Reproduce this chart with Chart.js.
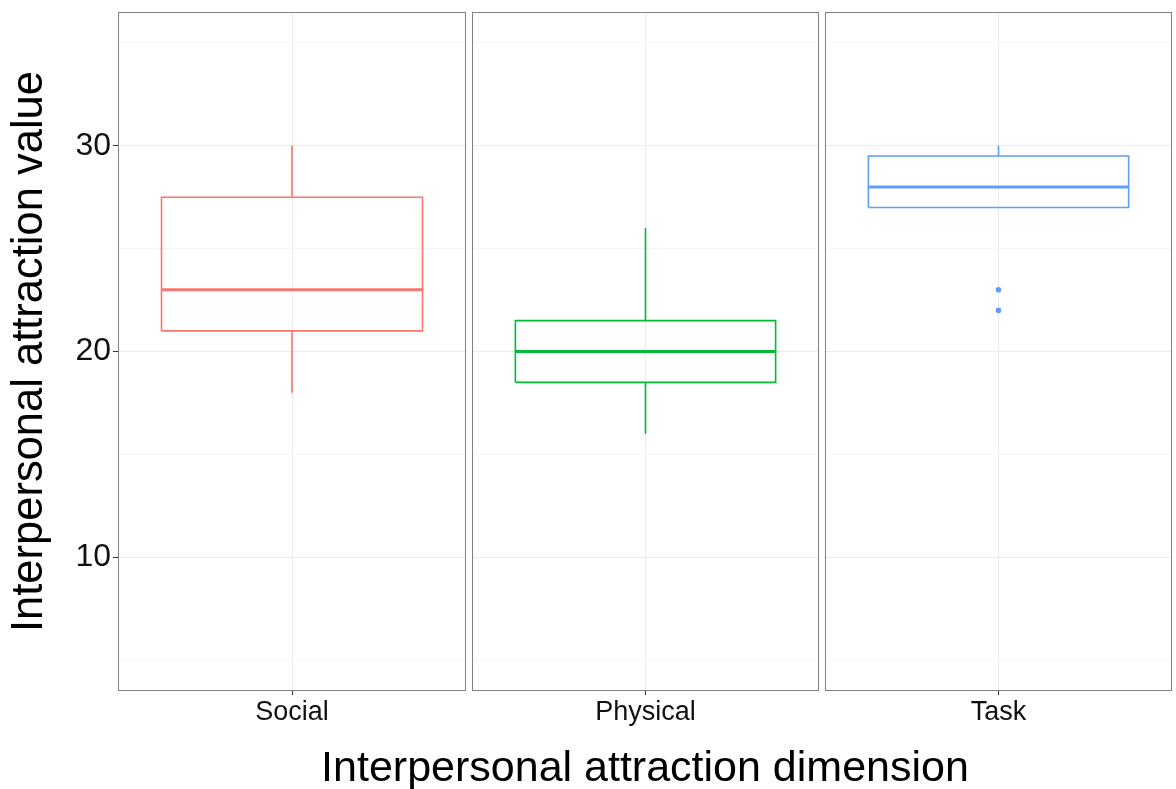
<!DOCTYPE html>
<html>
<head>
<meta charset="utf-8">
<script src="https://cdn.jsdelivr.net/npm/chart.js@4"></script>
<style>
  html, body { margin: 0; padding: 0; background: #fff; }
  #wrap { position: relative; width: 1176px; height: 789px; overflow: hidden; }
  #wrap canvas { position: absolute; top: 0; }
  #xtitle {
    position: absolute; left: 0; width: 1290px; top: 741px;
    text-align: center; white-space: nowrap;
    font-family: 'Liberation Sans', Arial, Helvetica, sans-serif;
    font-size: 43px; line-height: 50px; color: #000;
  }
</style>
</head>
<body>
<div id="wrap">
  <canvas id="p0"></canvas>
  <canvas id="p1"></canvas>
  <canvas id="p2"></canvas>
  <div id="xtitle">Interpersonal attraction dimension</div>
</div>
<script>
// Box-plot summaries, one facet per attraction dimension
const categories   = ['Social', 'Physical', 'Task'];
const lowerWhisker = [18, 16, 27];
const lowerQuart   = [21, 18.5, 27];
const medians      = [23, 20, 28];
const upperQuart   = [27.5, 21.5, 29.5];
const upperWhisker = [30, 26, 30];
const outliers     = [[], [], [23, 22]];
const yTicks       = [5, 10, 15, 20, 25, 30, 35];
const yLabelled    = [10, 20, 30];

const colours = ['#F8766D', '#00BA38', '#619CFF'];
const FONT = "'Liberation Sans', Arial, Helvetica, sans-serif";
const HALF_W = 0.45;          // half box width in x units
const X_MIN = 0.4, X_MAX = 1.6;
const Y_MIN = 3.5, Y_MAX = 36.5;

// canvas placement of each facet: [left, width]
const facetBoxes = [[0, 466], [472, 347], [825, 347]];
const AXIS_W = 118, AXIS_H = 98, TOP = 12;

const panelBorder = {
  id: 'panelBorder',
  afterDraw(chart) {
    const a = chart.chartArea, ctx = chart.ctx;
    ctx.save();
    ctx.strokeStyle = '#7f7f7f';
    ctx.lineWidth = 1;
    ctx.strokeRect(Math.round(a.left) + 0.5, Math.round(a.top) + 0.5,
                   Math.round(a.right - a.left) - 1, Math.round(a.bottom - a.top) - 1);
    ctx.restore();
  }
};

function seg(points, colour, width) {
  return {
    data: points, showLine: true, borderColor: colour, borderWidth: width,
    pointRadius: 0, fill: false, tension: 0, borderCapStyle: 'butt'
  };
}

function noPad(s) {
  s.paddingTop = 0; s.paddingBottom = 0; s.paddingLeft = 0; s.paddingRight = 0;
}

function makeFacet(i) {
  const c = colours[i];
  const lo = 1 - HALF_W, hi = 1 + HALF_W;
  const datasets = [
    seg([{x: lo, y: lowerQuart[i]}, {x: hi, y: lowerQuart[i]}, {x: hi, y: upperQuart[i]},
         {x: lo, y: upperQuart[i]}, {x: lo, y: lowerQuart[i]}], c, 1.6),
    seg([{x: lo, y: medians[i]}, {x: hi, y: medians[i]}], c, 3),
    seg([{x: 1, y: upperQuart[i]}, {x: 1, y: upperWhisker[i]}], c, 1.6),
    seg([{x: 1, y: lowerWhisker[i]}, {x: 1, y: lowerQuart[i]}], c, 1.6),
    {
      data: outliers[i].map(v => ({x: 1, y: v})), showLine: false,
      pointRadius: 2.8, pointBackgroundColor: c, pointBorderWidth: 0, borderColor: c
    }
  ];

  const first = i === 0;
  const [left, width] = facetBoxes[i];
  const cv = document.getElementById('p' + i);
  cv.style.left = left + 'px';
  cv.width = width; cv.height = 789;
  cv.style.width = width + 'px'; cv.style.height = '789px';

  new Chart(cv, {
    type: 'scatter',
    data: { datasets },
    plugins: [panelBorder],
    options: {
      responsive: false, animation: false, devicePixelRatio: 1,
      layout: { autoPadding: false, padding: { top: TOP, left: 0, right: 0, bottom: 0 } },
      plugins: { legend: { display: false }, tooltip: { enabled: false } },
      scales: {
        x: {
          type: 'linear', min: X_MIN, max: X_MAX,
          afterBuildTicks: s => { s.ticks = [{ value: 1 }]; },
          afterFit: s => { s.height = AXIS_H; noPad(s); },
          border: { display: false },
          grid: { color: '#ebebeb', lineWidth: 1, tickLength: 4, tickColor: '#333' },
          ticks: {
            callback: () => categories[i], color: '#111', padding: 1,
            font: { family: FONT, size: 27 }, maxRotation: 0
          }
        },
        y: {
          type: 'linear', min: Y_MIN, max: Y_MAX,
          afterBuildTicks: s => { s.ticks = yTicks.map(v => ({ value: v })); },
          afterFit: s => { s.width = first ? AXIS_W : 0; noPad(s); },
          border: { display: false },
          grid: {
            color: ctx => yLabelled.includes(ctx.tick.value) ? '#ebebeb' : '#f5f5f5',
            lineWidth: 1, drawTicks: first, tickLength: 5,
            tickColor: ctx => yLabelled.includes(ctx.tick.value) ? '#333' : 'rgba(0,0,0,0)'
          },
          ticks: {
            display: first, color: '#111', padding: 2,
            font: { family: FONT, size: 32 },
            callback: v => yLabelled.includes(v) ? String(v) : ''
          },
          title: {
            display: first, text: 'Interpersonal attraction value', color: '#000',
            font: { family: FONT, size: 43.5, lineHeight: 1.0 }, padding: { top: 8, bottom: 0 }
          }
        }
      }
    }
  });
}

categories.forEach((_, i) => makeFacet(i));
</script>
</body>
</html>
